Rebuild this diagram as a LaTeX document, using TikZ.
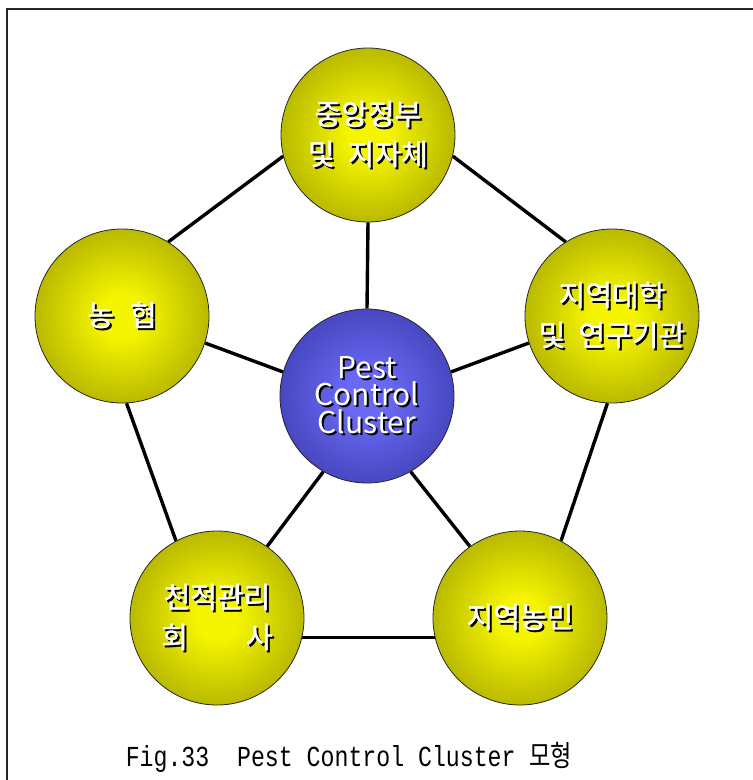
\documentclass[tikz,border=0pt]{standalone}
\usepackage{fontspec}
\usetikzlibrary{backgrounds}
\newfontfamily\kfont{Noto Sans CJK KR}
\newfontfamily\kfontb[FakeBold=1.3]{Noto Sans CJK KR}
\newfontfamily\capmono{Liberation Mono}
\definecolor{Y1}{RGB}{245,245,0}
\definecolor{Y2}{RGB}{108,108,0}
\definecolor{B1}{RGB}{105,105,245}
\definecolor{B2}{RGB}{28,28,125}
\pgfdeclareradialshading{yball}{\pgfpoint{0bp}{0bp}}{color(0bp)=(Y1); color(6bp)=(Y1); color(50bp)=(Y2); color(72bp)=(Y2)}
\pgfdeclareradialshading{bball}{\pgfpoint{0bp}{0bp}}{color(0bp)=(B1); color(6bp)=(B1); color(50bp)=(B2); color(72bp)=(B2)}
\newcommand\emb[1]{\rlap{\hspace{2pt}\raisebox{-2pt}{\textcolor{black}{#1}}}#1}
\tikzset{
  orb/.style={circle, minimum size=174pt, inner sep=0pt, draw=black!85, line width=0.8pt,
    shade, shading=yball, text=white, align=center,
    font=\kfontb\fontsize{29}{40}\selectfont},
  hub/.style={orb, shading=bball, font=\kfont\fontsize{30}{25.5}\selectfont},
  link/.style={line width=3.4pt, black},
  frameline/.style={line width=1.4pt, black!85}
}
\begin{document}
\begin{tikzpicture}[x=1pt,y=-1pt]
\useasboundingbox (0,0) rectangle (753,780);
\draw[frameline] (7,780) -- (7,9) -- (753,9);
\coordinate (cT) at (368,135);
\coordinate (cL) at (122,316);
\coordinate (cR) at (612,316);
\coordinate (cC) at (367,396);
\coordinate (cBL) at (217,618);
\coordinate (cBR) at (520,618);
\node[orb] (T) at (cT) {\emb{중앙정부}\\\emb{및\hspace{0.45em}지자체}};
\node[orb] (L) at (cL) {\emb{농\hspace{0.55em}협}};
\node[orb] (R) at (cR) {\emb{지역대학}\\\emb{및\hspace{0.45em}연구기관}};
\node[orb] (BL) at (cBL) {\emb{천적관리}\\\emb{회\hspace{2em}사}};
\node[orb] (BR) at (cBR) {\emb{지역농민}};
\node[hub] (C) at (cC) {\emb{Pest}\\\emb{Control}\\\emb{Cluster}};
\begin{scope}[on background layer]
\draw[link] (T.194) -- (L.58);
\draw[link] (T.-14) -- (R.122);
\draw[link] (T.-90) -- (C.90);
\draw[link] (L.-18) -- (C.164);
\draw[link] (R.198) -- (C.16);
\draw[link] (L.-87) -- (BL.118);
\draw[link] (R.-93) -- (BR.62);
\draw[link] (C.-120) -- (BL.55);
\draw[link] (C.-60) -- (BR.125);
\draw[link] (BL.-13) -- (BR.193);
\end{scope}
\node (cap) at (349,757) {\scalebox{0.8}[1]{\capmono\fontsize{29}{30}\selectfont Fig.33\ \ Pest\ Control\ Cluster\ {\kfont 모형}}};
\end{tikzpicture}
\end{document}
